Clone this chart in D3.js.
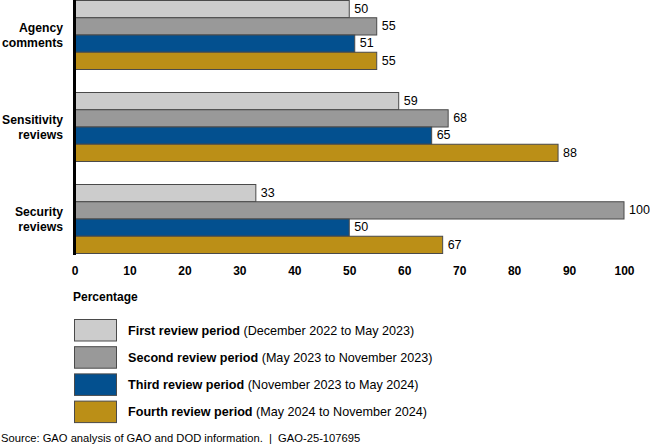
<!DOCTYPE html>
<html><head><meta charset="utf-8">
<script src="https://cdn.jsdelivr.net/npm/d3@7"></script>
<style>
html,body{margin:0;padding:0;background:#fff;}
svg{display:block;}
</style>
</head><body>
<svg id="chart" width="650" height="448"></svg>
<script>
const categories = [["Agency","comments"],["Sensitivity","reviews"],["Security","reviews"]];
const seriesNames = ["First review period","Second review period","Third review period","Fourth review period"];
const seriesRanges = ["(December 2022 to May 2023)","(May 2023 to November 2023)","(November 2023 to May 2024)","(May 2024 to November 2024)"];
const first  = [50, 59, 33];
const second = [55, 68, 100];
const third  = [51, 65, 50];
const fourth = [55, 88, 67];
const ticks = [0,10,20,30,40,50,60,70,80,90,100];
const colors = ["#cccccc","#999999","#03508f","#bb8f17"];
const series = [first, second, third, fourth];

const svg = d3.select("#chart");
const x = d3.scaleLinear().domain([0,100]).range([74.5, 624]);
const y0 = d3.scaleBand().domain(d3.range(categories.length)).range([0, 253]).paddingInner(0.25).paddingOuter(0);
const y1 = d3.scaleBand().domain(d3.range(series.length)).range([0, y0.bandwidth()]);

const F = "Liberation Sans, Arial, sans-serif";
const g = svg.append("g");
categories.forEach((c, ci) => {
  series.forEach((s, si) => {
    const yy = y0(ci) + y1(si);
    g.append("rect")
      .attr("x", x(0))
      .attr("y", yy + 0.5)
      .attr("width", x(s[ci]) - x(0))
      .attr("height", y1.bandwidth())
      .attr("fill", colors[si])
      .attr("stroke", "#4a4a4a")
      .attr("stroke-width", 1);
    g.append("text")
      .attr("x", x(s[ci]) + 5)
      .attr("y", yy + y1.bandwidth()/2 + 1)
      .attr("dominant-baseline", "middle")
      .attr("font-family", F)
      .attr("font-size", 12.5)
      .attr("fill", "#000")
      .text(s[ci]);
  });
  const t = svg.append("text")
    .attr("text-anchor", "end")
    .attr("font-family", F)
    .attr("font-weight", "bold")
    .attr("font-size", 12.2)
    .attr("fill", "#000");
  const cy = y0(ci) + y0.bandwidth()/2;
  c.forEach((line, li) => {
    t.append("tspan").attr("x", 63).attr("y", cy - 3 + li*15).text(line);
  });
});

// axis line
svg.append("line").attr("x1", 74.5).attr("x2", 74.5).attr("y1", 0).attr("y2", 255)
  .attr("stroke", "#000").attr("stroke-width", 3);

// ticks
const xAxis = d3.axisBottom(x).tickValues(ticks).tickSize(0).tickPadding(0);
const ax = svg.append("g").attr("transform", "translate(0,266)").call(xAxis);
ax.select(".domain").remove();
ax.selectAll("text")
  .attr("font-family", F)
  .attr("font-weight", "bold")
  .attr("font-size", 12)
  .attr("fill", "#000");

svg.append("text").attr("x", 73).attr("y", 301)
  .attr("font-family", F)
  .attr("font-weight", "bold").attr("font-size", 12).text("Percentage");

// legend
seriesNames.forEach((n, i) => {
  const ly = 319 + i*27.2;
  svg.append("rect").attr("x", 74.5).attr("y", ly + 0.5).attr("width", 42).attr("height", 21.5)
    .attr("fill", colors[i]).attr("stroke", "#4a4a4a").attr("stroke-width", 1);
  const t = svg.append("text").attr("x", 128).attr("y", ly + 15.5)
    .attr("font-family", F).attr("font-size", 12.6).attr("fill", "#000");
  t.append("tspan").attr("font-weight", "bold").text(n);
  t.append("tspan").text(" " + seriesRanges[i]);
});

svg.append("text").attr("x", 1).attr("y", 442)
  .attr("font-family", F).attr("font-size", 11.2).attr("fill", "#000")
  .style("white-space", "pre")
  .text("Source: GAO analysis of GAO and DOD information.  |  GAO-25-107695");
</script>
</body></html>
